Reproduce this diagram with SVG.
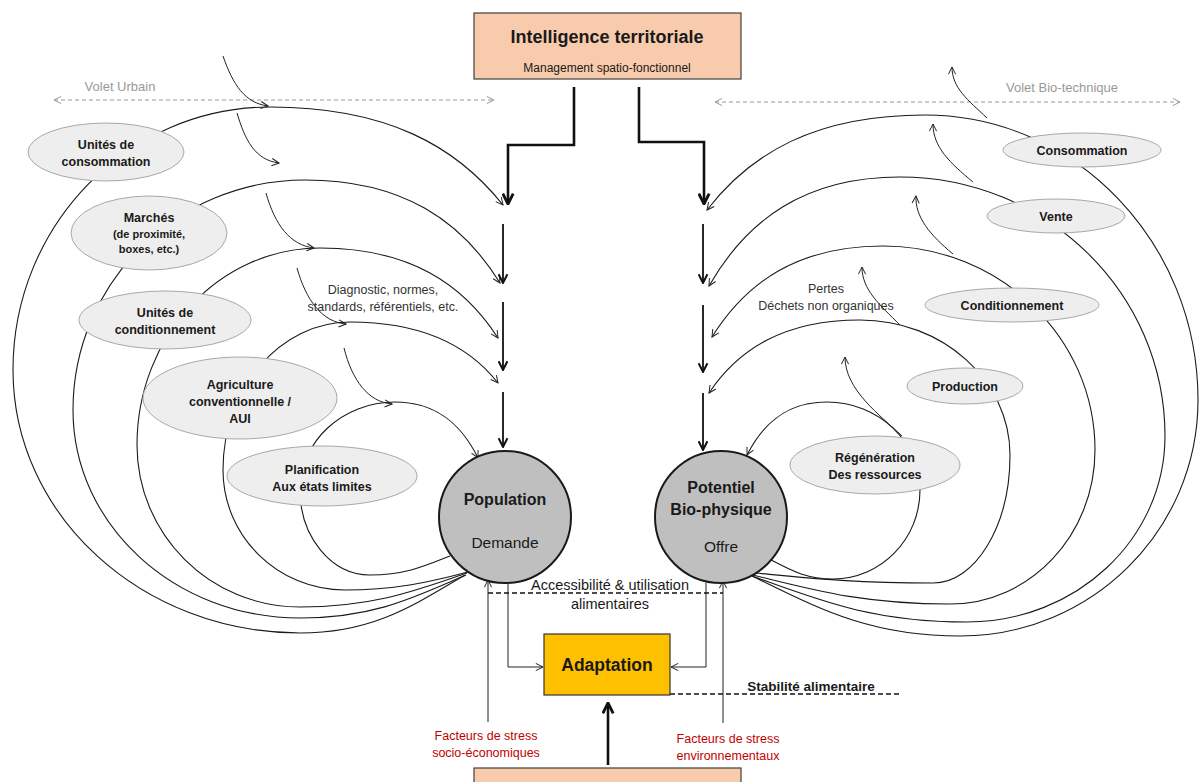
<svg xmlns="http://www.w3.org/2000/svg" width="1200" height="782" viewBox="0 0 1200 782">
<defs>
<style>
text{font-family:"Liberation Sans",Arial,sans-serif;text-anchor:middle;fill:#1a1a1a}
.b{font-weight:bold}
.el{fill:#EEEEEE;stroke:#A8A8A8;stroke-width:1}
.lbl{font-size:12.5px;font-weight:bold}
.arc{fill:none;stroke:#1a1a1a;stroke-width:1.1}
.thin{fill:none;stroke:#222;stroke-width:1}
.col{fill:none;stroke:#111;stroke-width:1.8}
.thick{fill:none;stroke:#111;stroke-width:2.6}
.volet{fill:none;stroke:#999;stroke-width:1;stroke-dasharray:4 3}
.dash{fill:none;stroke:#111;stroke-width:1.4;stroke-dasharray:5 3}
.red{fill:#C00000;font-size:12.5px}
.gray{fill:#999;font-size:13px}
.note{font-size:12.5px;fill:#333}
</style>
<marker id="ah" viewBox="0 0 10 10" refX="9" refY="5" markerWidth="9" markerHeight="9" markerUnits="userSpaceOnUse" orient="auto"><path d="M1,1 L9,5 L1,9" fill="none" stroke="#222" stroke-width="1.1"/></marker>
<marker id="ahm" viewBox="0 0 10 10" refX="9" refY="5" markerWidth="11" markerHeight="11" markerUnits="userSpaceOnUse" orient="auto"><path d="M1,1 L9,5 L1,9" fill="none" stroke="#111" stroke-width="1.8"/></marker>
<marker id="ahb" viewBox="0 0 10 10" refX="9" refY="5" markerWidth="13" markerHeight="13" markerUnits="userSpaceOnUse" orient="auto"><path d="M1,1 L9,5 L1,9" fill="none" stroke="#111" stroke-width="2.2"/></marker>
<marker id="ahg" viewBox="0 0 10 10" refX="9" refY="5" markerWidth="9" markerHeight="9" markerUnits="userSpaceOnUse" orient="auto-start-reverse"><path d="M1,1 L9,5 L1,9" fill="none" stroke="#999" stroke-width="1.1"/></marker>
</defs>
<rect width="1200" height="782" fill="#fff"/>

<g id="connectors">
<!-- volet lines -->
<path class="volet" d="M54,100 H494" marker-start="url(#ahg)" marker-end="url(#ahg)"/>
<path class="volet" d="M715,102 H1180" marker-start="url(#ahg)" marker-end="url(#ahg)"/>
<!-- left loops -->
<path class="arc" marker-end="url(#ah)" d="M465,575 C415.5,604 374,633 300,633 C141.6,633 13,515.2 13,370 C13,224.8 128.1,107 270,107 C386.5,107 456,146 503,205"/>
<path class="arc" marker-end="url(#ah)" d="M466,575 C416,596.5 375,618 300,618 C174.7,618 73,524.8 73,410 C73,283 176.9,180 305,180 C403,180 461.8,221.2 500,283"/>
<path class="arc" marker-end="url(#ah)" d="M467,573 C417,590 375,607 300,607 C210,607 137,534.4 137,445 C137,336.3 219,248 320,248 C409.5,248 463.2,284 498,338"/>
<path class="arc" marker-end="url(#ah)" d="M468,572 C431,581 400,590 345,590 C277.7,590 223,536.2 223,470 C223,388.3 279.9,322 350,322 C424.5,322 469.2,346.4 498,383"/>
<path class="arc" marker-end="url(#ah)" d="M450,556 C426,565.5 406,575 370,575 C331.4,575 300,536.9 300,490 C300,441.4 342.6,402 395,402 C436.5,402 461.4,424.4 478,458"/>
<!-- right loops -->
<path class="arc" marker-end="url(#ah)" d="M752,576 C814.4,606 866.4,636 960,636 C1091.4,636 1198,530.3 1198,400 C1198,242.7 1075.7,115 925,115 C816,115 750.6,153 707,210"/>
<path class="arc" marker-end="url(#ah)" d="M752,576 C816.5,599 870.3,622 967,622 C1076.3,622 1165,538.7 1165,436 C1165,293 1046.3,177 900,177 C804,177 746.4,220.6 709,286"/>
<path class="arc" marker-end="url(#ah)" d="M753,575 C812.1,589.5 861.4,604 950,604 C1030,604 1095,535 1095,450 C1095,337.4 1000,246 883,246 C797.5,246 746.2,282.4 712,337"/>
<path class="arc" marker-end="url(#ah)" d="M755,573 C808.4,578 853,583 933,583 C975.5,583 1010,525.7 1010,455 C1010,380.5 942.8,320 860,320 C784,320 738.4,349.2 709,393"/>
<path class="arc" marker-end="url(#ah)" d="M771,560 C789.6,569.5 805.1,579 833,579 C881,579 920,539.1 920,490 C920,441.4 878.3,402 827,402 C787,402 763,423.2 747,455"/>
<!-- small incoming arrows (left) -->
<path class="thin" marker-end="url(#ah)" d="M223,56 C233,85 245,103 268,106"/>
<path class="thin" marker-end="url(#ah)" d="M237,113 C245,140 255,160 279,163"/>
<path class="thin" marker-end="url(#ah)" d="M266,193 C275,225 290,245 314,248"/>
<path class="thin" marker-end="url(#ah)" d="M297,268 C306,300 322,322 346,324"/>
<path class="thin" marker-end="url(#ah)" d="M344,348 C352,380 368,402 392,404"/>
<!-- small outgoing arrows (right) -->
<path class="thin" marker-end="url(#ah)" d="M987,118 C968,100 952,88 952,67"/>
<path class="thin" marker-end="url(#ah)" d="M973,182 C950,163 933,147 933,124"/>
<path class="thin" marker-end="url(#ah)" d="M953,254 C930,235 915,217 916,196"/>
<path class="thin" marker-end="url(#ah)" d="M900,325 C880,305 862,290 862,267"/>
<path class="thin" marker-end="url(#ah)" d="M902,436 C880,415 845,390 845,357"/>
<!-- thick stepped arrows -->
<path class="thick" marker-end="url(#ahb)" d="M574,87 V145 H508 V204"/>
<path class="thick" marker-end="url(#ahb)" d="M639,87 V142 H704 V204"/>
<!-- column arrows -->
<path class="col" marker-end="url(#ahm)" d="M503,224 V283"/>
<path class="col" marker-end="url(#ahm)" d="M503,302 V370"/>
<path class="col" marker-end="url(#ahm)" d="M503,392 V447"/>
<path class="col" marker-end="url(#ahm)" d="M703,224 V283"/>
<path class="col" marker-end="url(#ahm)" d="M703,305 V372"/>
<path class="col" marker-end="url(#ahm)" d="M703,393 V450"/>
<!-- bottom -->
<path class="thin" marker-end="url(#ah)" d="M508,583 V667 H543"/>
<path class="thin" marker-end="url(#ah)" d="M706,583 V667 H671"/>
<path class="thin" marker-end="url(#ah)" d="M488,722 V580"/>
<path class="thin" marker-end="url(#ah)" d="M723,723 V581"/>
<path class="dash" d="M488,593 H723"/>
<path class="dash" d="M670,694 H900"/>
<path class="thick" marker-end="url(#ahb)" d="M608,765 V703"/>
</g>

<g id="n-intelligence-top">
<rect x="474" y="13" width="267" height="66" fill="#F8CBAD" stroke="#404040" stroke-width="1.2"/>
<text x="607" y="43" class="b" font-size="18">Intelligence territoriale</text>
<text x="607" y="72" font-size="12">Management spatio-fonctionnel</text>
</g>
<g id="n-intelligence-bottom">
<rect x="474" y="768" width="267" height="40" fill="#F8CBAD" stroke="#404040" stroke-width="1.2"/>
</g>

<g id="labels">
<text x="120" y="91" class="gray">Volet Urbain</text>
<text x="1062" y="92" class="gray">Volet Bio-technique</text>
<text x="383" y="294" class="note">Diagnostic, normes,</text>
<text x="383" y="311" class="note">standards, référentiels, etc.</text>
<text x="826" y="293" class="note">Pertes</text>
<text x="826" y="310" class="note">Déchets non organiques</text>
<text x="610" y="590" font-size="14.5">Accessibilité &amp; utilisation</text>
<text x="610" y="609" font-size="14.5">alimentaires</text>
<text x="811" y="691" class="b" font-size="13.5">Stabilité alimentaire</text>
<text x="486" y="740" class="red">Facteurs de stress</text>
<text x="486" y="757" class="red">socio-économiques</text>
<text x="728" y="743" class="red">Facteurs de stress</text>
<text x="728" y="760" class="red">environnementaux</text>
</g>

<g id="n-unites-consommation">
<ellipse class="el" cx="106" cy="152" rx="78" ry="29"/>
<text x="106" y="149" class="lbl">Unités de</text>
<text x="106" y="166" class="lbl">consommation</text>
</g>
<g id="n-marches">
<ellipse class="el" cx="149" cy="233" rx="78" ry="37"/>
<text x="149" y="222" class="lbl">Marchés</text>
<text x="149" y="238" class="b" font-size="11">(de proximité,</text>
<text x="149" y="253" class="b" font-size="11">boxes, etc.)</text>
</g>
<g id="n-unites-conditionnement">
<ellipse class="el" cx="165" cy="320" rx="86" ry="29"/>
<text x="165" y="317" class="lbl">Unités de</text>
<text x="165" y="334" class="lbl">conditionnement</text>
</g>
<g id="n-agriculture">
<ellipse class="el" cx="240" cy="398" rx="97" ry="41"/>
<text x="240" y="389" class="lbl">Agriculture</text>
<text x="240" y="406" class="lbl">conventionnelle /</text>
<text x="240" y="423" class="lbl">AUI</text>
</g>
<g id="n-planification">
<ellipse class="el" cx="322" cy="476" rx="95" ry="30"/>
<text x="322" y="474" class="lbl">Planification</text>
<text x="322" y="491" class="lbl">Aux états limites</text>
</g>

<g id="n-consommation">
<ellipse class="el" cx="1082" cy="150" rx="79" ry="17"/>
<text x="1082" y="155" class="lbl">Consommation</text>
</g>
<g id="n-vente">
<ellipse class="el" cx="1056" cy="216" rx="69" ry="17"/>
<text x="1056" y="221" class="lbl">Vente</text>
</g>
<g id="n-conditionnement">
<ellipse class="el" cx="1012" cy="305" rx="87" ry="17"/>
<text x="1012" y="310" class="lbl">Conditionnement</text>
</g>
<g id="n-production">
<ellipse class="el" cx="965" cy="386" rx="58" ry="18"/>
<text x="965" y="391" class="lbl">Production</text>
</g>
<g id="n-regeneration">
<ellipse class="el" cx="875" cy="465" rx="85" ry="29"/>
<text x="875" y="462" class="lbl">Régénération</text>
<text x="875" y="479" class="lbl">Des ressources</text>
</g>

<g id="n-population">
<circle cx="505" cy="517" r="66" fill="#BFBFBF" stroke="#1a1a1a" stroke-width="2"/>
<text x="505" y="505" class="b" font-size="16">Population</text>
<text x="505" y="548" font-size="15.5">Demande</text>
</g>
<g id="n-potentiel">
<circle cx="721" cy="517" r="66" fill="#BFBFBF" stroke="#1a1a1a" stroke-width="2"/>
<text x="721" y="493" class="b" font-size="16">Potentiel</text>
<text x="721" y="515" class="b" font-size="16">Bio-physique</text>
<text x="721" y="552" font-size="15.5">Offre</text>
</g>
<g id="n-adaptation">
<rect x="544" y="634" width="126" height="61" fill="#FFC000" stroke="#333" stroke-width="1.2"/>
<text x="607" y="671" class="b" font-size="17.5">Adaptation</text>
</g>
</svg>
